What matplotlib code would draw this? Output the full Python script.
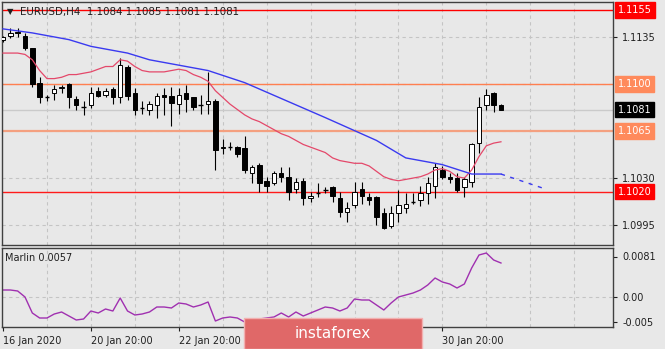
import matplotlib
matplotlib.use("Agg")
import matplotlib.pyplot as plt
from matplotlib.patches import Rectangle
from matplotlib.transforms import blended_transform_factory

W, H = 665, 349
bg = "#e8e8e8"

# EURUSD H4 candles
opens = [1.1133, 1.1136, 1.1139, 1.1136, 1.1127, 1.1101, 1.1090, 1.1093, 1.1097, 1.1100,
         1.1089, 1.1083, 1.1084, 1.1095, 1.1092, 1.1096, 1.1090, 1.1113, 1.1093, 1.1082,
         1.1081, 1.1084, 1.1092, 1.1091, 1.1085, 1.1093, 1.1090, 1.1084, 1.1085, 1.1087,
         1.1052, 1.1053, 1.1053, 1.1052, 1.1034, 1.1040, 1.1028, 1.1026, 1.1034, 1.1031,
         1.1022, 1.1028, 1.1015, 1.1019, 1.1021, 1.1023, 1.1015, 1.1005, 1.1010, 1.1022,
         1.1016, 1.1016, 1.1004, 1.0994, 1.1004, 1.1008, 1.1012, 1.1014, 1.1019, 1.1024,
         1.1036, 1.1031, 1.1030, 1.1023, 1.1027, 1.1056, 1.1084, 1.1093, 1.1084]
highs = [1.1136, 1.1142, 1.1142, 1.1138, 1.1127, 1.1105, 1.1092, 1.1099, 1.1099, 1.1101,
         1.1091, 1.1087, 1.1098, 1.1098, 1.1097, 1.1098, 1.1119, 1.1114, 1.1097, 1.1087,
         1.1087, 1.1093, 1.1097, 1.1098, 1.1097, 1.1099, 1.1090, 1.1092, 1.1109, 1.1089,
         1.1059, 1.1057, 1.1054, 1.1061, 1.1040, 1.1041, 1.1031, 1.1035, 1.1038, 1.1038,
         1.1030, 1.1030, 1.1020, 1.1026, 1.1023, 1.1024, 1.1020, 1.1012, 1.1027, 1.1027,
         1.1019, 1.1017, 1.1008, 1.1009, 1.1021, 1.1019, 1.1019, 1.1024, 1.1031, 1.1041,
         1.1039, 1.1034, 1.1034, 1.1031, 1.1056, 1.1090, 1.1096, 1.1094, 1.1085]
lows = [1.1131, 1.1134, 1.1135, 1.1125, 1.1098, 1.1086, 1.1087, 1.1088, 1.1093, 1.1082,
        1.1081, 1.1077, 1.1082, 1.1090, 1.1090, 1.1085, 1.1086, 1.1088, 1.1077, 1.1078,
        1.1077, 1.1075, 1.1077, 1.1069, 1.1078, 1.1079, 1.1081, 1.1078, 1.1078, 1.1036,
        1.1048, 1.1051, 1.1046, 1.1034, 1.1026, 1.1020, 1.1020, 1.1025, 1.1027, 1.1014,
        1.1019, 1.1010, 1.1012, 1.1016, 1.1019, 1.1012, 1.1001, 1.0997, 1.1008, 1.1011,
        1.1010, 1.0995, 1.0992, 1.0993, 1.0997, 1.1004, 1.1011, 1.1009, 1.1011, 1.1015,
        1.1029, 1.1026, 1.1020, 1.1016, 1.1023, 1.1049, 1.1081, 1.1079, 1.1081]
closes = [1.1135, 1.1138, 1.1138, 1.1127, 1.1100, 1.1090, 1.1090, 1.1096, 1.1098, 1.1090,
          1.1084, 1.1083, 1.1093, 1.1091, 1.1095, 1.1090, 1.1114, 1.1091, 1.1081, 1.1082,
          1.1085, 1.1091, 1.1090, 1.1086, 1.1092, 1.1089, 1.1083, 1.1084, 1.1087, 1.1051,
          1.1053, 1.1053, 1.1048, 1.1036, 1.1038, 1.1026, 1.1024, 1.1034, 1.1031, 1.1020,
          1.1027, 1.1015, 1.1017, 1.1019, 1.1021, 1.1017, 1.1005, 1.1008, 1.1020, 1.1017,
          1.1014, 1.1001, 1.0993, 1.1004, 1.1010, 1.1011, 1.1012, 1.1019, 1.1026, 1.1038,
          1.1031, 1.1029, 1.1021, 1.1029, 1.1055, 1.1083, 1.1092, 1.1084, 1.1081]

# fast moving average (red), one value per candle
red_ma = [1.1123, 1.1123, 1.1123, 1.1122, 1.1118, 1.1110, 1.1104, 1.1104, 1.1105, 1.1107,
          1.1107, 1.1108, 1.1109, 1.1111, 1.1113, 1.1113, 1.1118, 1.1117, 1.1113, 1.1110,
          1.1109, 1.1109, 1.1109, 1.1110, 1.1111, 1.1110, 1.1107, 1.1105, 1.1102, 1.1095,
          1.1090, 1.1085, 1.1081, 1.1077, 1.1074, 1.1072, 1.1069, 1.1066, 1.1063, 1.1061,
          1.1058, 1.1055, 1.1053, 1.1051, 1.1049, 1.1045, 1.1043, 1.1042, 1.1041, 1.1041,
          1.1039, 1.1035, 1.1031, 1.1029, 1.1028, 1.1029, 1.1030, 1.1031, 1.1033, 1.1036,
          1.1037, 1.1035, 1.1031, 1.1030, 1.1036, 1.1046, 1.1054, 1.1056, 1.1057]

# slow moving average (blue), read at a few candles
blue_idx = [0, 4, 9, 12, 17, 20, 28, 33, 44, 51, 55, 60, 64, 68]
blue_ma = [1.1141, 1.1138, 1.1133, 1.1128, 1.1123, 1.1118, 1.1110, 1.1101, 1.1075,
           1.1058, 1.1045, 1.1040, 1.1033, 1.1033]
proj_idx = [68, 74]
proj_ma = [1.1033, 1.1022]

# Marlin oscillator, one value per candle
marlin = [0.0014, 0.0014, 0.0012, 0.0000, -0.0032, -0.0042, -0.0042, -0.0034, -0.0030, -0.0038,
          -0.0046, -0.0044, -0.0028, -0.0032, -0.0024, -0.0028, -0.0002, -0.0028, -0.0036, -0.0034,
          -0.0030, -0.0020, -0.0020, -0.0022, -0.0012, -0.0014, -0.0020, -0.0016, -0.0010, -0.0048,
          -0.0042, -0.0040, -0.0042, -0.0050, -0.0048, -0.0044, -0.0042, -0.0040, -0.0032, -0.0040,
          -0.0030, -0.0038, -0.0032, -0.0026, -0.0020, -0.0022, -0.0028, -0.0022, -0.0004, -0.0006,
          -0.0006, -0.0016, -0.0026, -0.0012, 0.0000, 0.0004, 0.0008, 0.0014, 0.0024, 0.0038,
          0.0030, 0.0026, 0.0018, 0.0026, 0.0058, 0.0084, 0.0088, 0.0074, 0.0068]

levels = [1.1155, 1.1100, 1.1065, 1.1020]
level_colors = ["#ff0000", "#ff7f50", "#f4a080", "#ff1a1a"]
level_widths = [1.0, 1.0, 1.6, 1.0]
box_colors = ["#ff0000", "#ff8a5c", "#ff8a5c", "#ff0000"]
last_price = 1.1081

price_ticks = [1.1135, 1.1030, 1.0995]
grid_prices = [1.1135, 1.1100, 1.1065, 1.1030, 1.0995]
osc_ticks = [0.0081, 0.0, -0.005]
osc_labels = ["0.0081", "0.00", "-0.005"]
date_ticks = [0, 12, 24, 60]
date_labels = ["16 Jan 2020", "20 Jan 20:00", "22 Jan 20:00", "30 Jan 20:00"]


def px_box(l, t, r, b):
    return [l / W, 1 - b / H, (r - l) / W, (b - t) / H]


def style_axes(a):
    a.set_facecolor(bg)
    for s in a.spines.values():
        s.set_color("#404040")
        s.set_linewidth(1.0)
    a.tick_params(labelsize=7, colors="#202020", length=3, width=0.8)
    a.yaxis.tick_right()
    for i in range(6, 84, 6):
        a.axvline(i, color="#c4c4c4", lw=0.8, ls=(0, (3, 3)), zorder=0)


def draw_candles(a):
    for i in range(len(opens)):
        o, h, l, c = opens[i], highs[i], lows[i], closes[i]
        a.vlines(i, l, h, color="black", lw=0.8, zorder=3)
        if c == o:
            a.hlines(o, i - 0.32, i + 0.32, color="black", lw=1.0, zorder=4)
            continue
        fill = "white" if c > o else "black"
        a.add_patch(Rectangle((i - 0.3, min(o, c)), 0.6, abs(c - o),
                              facecolor=fill, edgecolor="black", lw=0.7, zorder=4))


fig = plt.figure(figsize=(W / 100, H / 100), dpi=100, facecolor=bg)
ax = fig.add_axes(px_box(2, 2, 613, 245))
ax2 = fig.add_axes(px_box(2, 248, 613, 327))
style_axes(ax)
style_axes(ax2)

ax.set_xlim(-0.14, 83.3)
ax2.set_xlim(-0.14, 83.3)
ax.set_ylim(1.09802, 1.11610)
ax2.set_ylim(-0.0060, 0.0098)

# main price panel
for p in grid_prices:
    ax.axhline(p, color="#c4c4c4", lw=0.8, ls=(0, (3, 3)), zorder=0)
ax.axhline(last_price, color="#cacaca", lw=1.0, zorder=1)
for p, col, lw in zip(levels, level_colors, level_widths):
    ax.axhline(p, color=col, lw=lw, zorder=2)

draw_candles(ax)
ax.plot(range(len(red_ma)), red_ma, color="#e4486a", lw=0.9, zorder=5)
ax.plot(blue_idx, blue_ma, color="#3a3af0", lw=1.0, zorder=5)
ax.plot(proj_idx, proj_ma, color="#3a3af0", lw=1.0, ls=(0, (3, 4)), zorder=5)

ax.set_xticks([])
ax.set_yticks(price_ticks)
ax.set_yticklabels(["%.4f" % p for p in price_ticks])

tr = blended_transform_factory(fig.transFigure, ax.transData)
for p, col in zip(levels, box_colors):
    ax.text(618 / W, p, "%.4f" % p, transform=tr, fontsize=7, color="white", va="center",
            ha="left", bbox=dict(boxstyle="square,pad=0.28", fc=col, ec=col), clip_on=False)
ax.text(618 / W, last_price, "%.4f" % last_price, transform=tr, fontsize=7, color="white",
        va="center", ha="left", bbox=dict(boxstyle="square,pad=0.28", fc="black", ec="black"),
        clip_on=False)

fig.text(7 / W, 1 - 12 / H, "\u25bc", fontsize=6, color="#202020", va="center")
fig.text(20 / W, 1 - 12 / H, "EURUSD,H4  1.1084 1.1085 1.1081 1.1081", fontsize=7.4,
         color="#202020", va="center")

# oscillator panel
ax2.axhline(0, color="#c4c4c4", lw=0.8, ls=(0, (3, 3)), zorder=0)
ax2.plot(range(len(marlin)), marlin, color="#a030b0", lw=1.0)
ax2.set_yticks(osc_ticks)
ax2.set_yticklabels(osc_labels)
ax2.set_xticks(date_ticks)
ax2.set_xticklabels(date_labels, ha="left")
fig.text(5 / W, 1 - 258 / H, "Marlin 0.0057", fontsize=7, color="#202020", va="center")

# watermark
fig.add_artist(Rectangle((244 / W, 0), (422 - 244) / W, (349 - 318) / H, transform=fig.transFigure,
                         facecolor="#e06868", edgecolor="#f2b0b0", lw=1.0, zorder=10))
fig.text(333 / W, 1 - 333 / H, "instaforex", fontsize=11, color="white", ha="center",
         va="center", zorder=11)

fig.savefig("out.png", dpi=100, facecolor=bg)
